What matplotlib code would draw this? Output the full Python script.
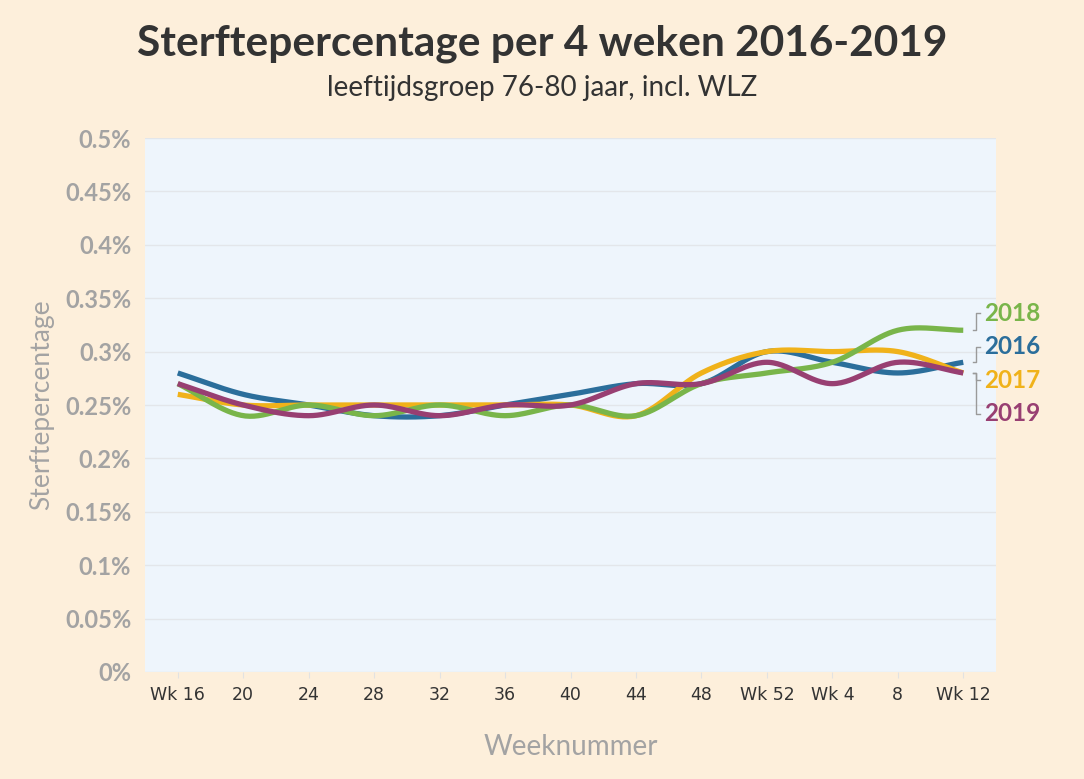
import numpy as np
import matplotlib
matplotlib.use("Agg")
import matplotlib.pyplot as plt

weeks = ["Wk 16", "20", "24", "28", "32", "36", "40", "44", "48", "Wk 52", "Wk 4", "8", "Wk 12"]
years = ["2016", "2017", "2018", "2019"]
pct_2016 = [0.28, 0.26, 0.25, 0.24, 0.24, 0.25, 0.26, 0.27, 0.27, 0.30, 0.29, 0.28, 0.29]
pct_2017 = [0.26, 0.25, 0.25, 0.25, 0.25, 0.25, 0.25, 0.24, 0.28, 0.30, 0.30, 0.30, 0.28]
pct_2018 = [0.27, 0.24, 0.25, 0.24, 0.25, 0.24, 0.25, 0.24, 0.27, 0.28, 0.29, 0.32, 0.32]
pct_2019 = [0.27, 0.25, 0.24, 0.25, 0.24, 0.25, 0.25, 0.27, 0.27, 0.29, 0.27, 0.29, 0.28]
yticks = [0, 0.05, 0.1, 0.15, 0.2, 0.25, 0.3, 0.35, 0.4, 0.45, 0.5]

series = [pct_2016, pct_2017, pct_2018, pct_2019]
colors = ["#2b6e9b", "#f0b21a", "#79b54a", "#983f72"]

BG = "#fdefdb"
PLOT_BG = "#eef5fc"
GREY = "#a3a3a3"


def smooth(y, n=30):
    # catmull-rom through the points
    y = np.asarray(y, float)
    x = np.arange(len(y))
    t = np.zeros_like(y)
    t[1:-1] = (y[2:] - y[:-2]) / 2
    t[0] = y[1] - y[0]
    t[-1] = y[-1] - y[-2]
    xs, ys = [], []
    for i in range(len(y) - 1):
        s = np.linspace(0, 1, n, endpoint=False)
        h00 = 2 * s**3 - 3 * s**2 + 1
        h10 = s**3 - 2 * s**2 + s
        h01 = -2 * s**3 + 3 * s**2
        h11 = s**3 - s**2
        xs.append(x[i] + s)
        ys.append(h00 * y[i] + h10 * t[i] + h01 * y[i + 1] + h11 * t[i + 1])
    xs.append([x[-1]])
    ys.append([y[-1]])
    return np.concatenate(xs), np.concatenate(ys)


fig = plt.figure(figsize=(10.84, 7.79), dpi=100, facecolor=BG)
ax = fig.add_axes([0.1338, 0.1374, 0.785, 0.6854])
ax.set_facecolor(PLOT_BG)

for vals, c in zip(series, colors):
    xs, ys = smooth(vals)
    ax.plot(xs, ys, color=c, lw=3.8, solid_capstyle="butt", zorder=3)

ax.set_xlim(-0.5, 12.5)
ax.set_ylim(0, 0.5)
ax.set_yticks(yticks)
ax.set_yticklabels([f"{v:g}%" for v in yticks], fontsize=17, fontweight="bold",
                   color=GREY, family=["Lato", "DejaVu Sans"])
ax.set_xticks(range(len(weeks)))
ax.set_xticklabels(weeks, fontsize=12.5, color="#333333",
                   family=["Liberation Sans Narrow", "DejaVu Sans"])
ax.tick_params(axis="y", length=0, pad=10)
ax.tick_params(axis="x", length=4, color="#e2e2e2", pad=6)
ax.grid(axis="y", color="#e3e6ea", lw=1)
ax.set_axisbelow(True)
for sp in ax.spines.values():
    sp.set_visible(False)

ax.set_xlabel("Weeknummer", fontsize=20, color=GREY, labelpad=22, family=["Lato", "DejaVu Sans"])
ax.set_ylabel("Sterftepercentage", fontsize=19, color=GREY, labelpad=8, family=["Lato", "DejaVu Sans"])

fig.text(0.5, 0.944, "Sterftepercentage per 4 weken 2016-2019", ha="center", va="center",
         fontsize=30.5, fontweight="bold", color="#333333", family=["Lato", "DejaVu Sans"])
fig.text(0.5, 0.887, "leeftijdsgroep 76-80 jaar, incl. WLZ", ha="center", va="center",
         fontsize=20, color="#333333", family=["Lato", "DejaVu Sans"])

# end labels, spread around the end values
ends = [s[-1] for s in series]
order = sorted(range(len(series)), key=lambda i: -ends[i])
gap = 0.0314
mid = np.mean(ends) - 0.0035
n = len(order)
for rank, i in enumerate(order):
    ly = mid + gap * ((n - 1) / 2 - rank)
    ax.plot([12.15, 12.2, 12.2, 12.25], [ends[i], ends[i], ly, ly], color="#9a9a9a",
            lw=1, clip_on=False, zorder=2)
    ax.text(12.32, ly, years[i], color=colors[i], fontsize=17.5, fontweight="bold",
            va="center", ha="left", family=["Lato", "DejaVu Sans"], clip_on=False)

fig.savefig("out.png", dpi=100, facecolor=BG)
